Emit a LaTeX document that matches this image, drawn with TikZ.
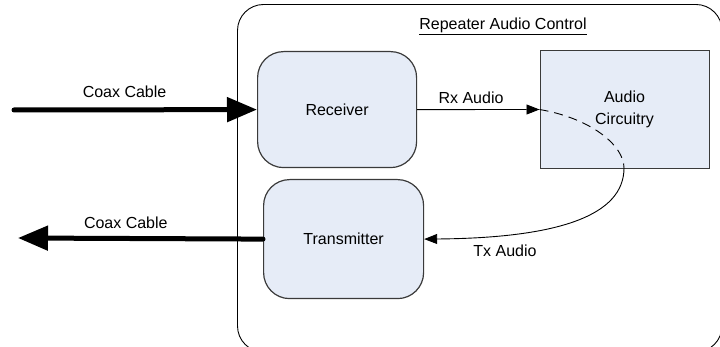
\documentclass[tikz,border=0pt]{standalone}
\usepackage{fontspec}
\setmainfont{Liberation Sans}
\usetikzlibrary{arrows.meta}
\definecolor{boxfill}{HTML}{E6ECF7}
\definecolor{boxline}{HTML}{3A3A3A}
\begin{document}
\begin{tikzpicture}[x=1pt,y=-1pt,
  font=\fontsize{16}{19}\selectfont,
  unit/.style={draw=boxline,line width=1.2pt,fill=boxfill,rounded corners=26pt,
    minimum width=#1,inner sep=0pt,anchor=north west},
  coax/.style={line width=5pt,line cap=round,-{Triangle[length=30pt,width=24pt]}},
  audio/.style={line width=0.9pt,-{Triangle[length=13pt,width=10pt]}},
  lbl/.style={inner sep=0pt}]
\useasboundingbox (0,0) rectangle (720,347);
\begin{scope}
  \clip (0,0) rectangle (720,347);
  % enclosing repeater frame, running past the lower and right edges
  \draw[line width=0.9pt,rounded corners=26pt] (237.5,4.5) rectangle (722,352);
\end{scope}
\node[lbl] (title) at (503,26) {\underline{Repeater Audio Control}};

% functional blocks
\node[unit=159pt,minimum height=116pt] (rx) at (257,51) {};
\node at (rx.center) {Receiver};
\node[unit=160pt,minimum height=119pt] (tx) at (263,179) {};
\node at (tx.center) {Transmitter};
\node[draw=boxline,line width=1pt,fill=boxfill,minimum width=169pt,minimum height=118pt,
  inner sep=0pt,anchor=north west,align=center] (ac) at (539.5,50) {Audio\\[3pt]Circuitry};

% coax feeds
\coordinate (ant-in) at (14,110);
\coordinate (ant-out) at (18,238);
\draw[coax] (ant-in) -- node[pos=0.455,yshift=18pt,lbl]{Coax Cable} (rx.west);
\draw[coax] (tx.west) -- node[pos=0.56,yshift=16pt,lbl]{Coax Cable} (ant-out);

% audio paths
\draw[audio] (rx.east) -- node[pos=0.44,yshift=12pt,lbl]{Rx Audio} (ac.west);
\coordinate (ac-exit) at (624,168);
\draw[line width=0.9pt,dash pattern=on 9pt off 6pt] (ac.west) .. controls (590,118) and (624,145) .. (ac-exit);
\draw[audio] (ac-exit) .. controls (624,215) and (560,238) .. (tx.east);
\node[lbl] (txa) at (505,251) {Tx Audio};
\end{tikzpicture}
\end{document}
